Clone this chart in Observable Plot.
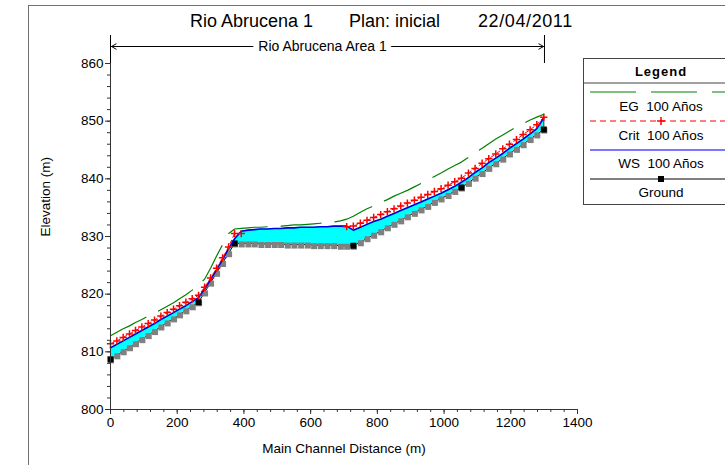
<!DOCTYPE html>
<html>
<head>
<meta charset="utf-8">
<script src="https://cdn.jsdelivr.net/npm/d3@7"></script>
<script src="https://cdn.jsdelivr.net/npm/@observablehq/plot@0.6"></script>
<style>
  html, body { margin: 0; padding: 0; background: #fff; }
  body { width: 725px; height: 465px; overflow: hidden; font-family: "Liberation Sans", Arial, sans-serif; }
  #wrap { position: relative; width: 725px; height: 465px; overflow: hidden; }
  #frame { position: absolute; left: 28px; top: 5px; width: 800px; height: 600px; border: 1px solid #707070; box-sizing: border-box; }
  #chart { position: absolute; left: 0; top: 0; }
  .title { position: absolute; top: 11px; font-size: 18px; color: #000; white-space: pre; }
  #legend { position: absolute; left: 583px; top: 58px; }
</style>
</head>
<body>
<div id="wrap">
  <div id="frame"></div>
  <div id="chart"></div>
  <div class="title" style="left:190px">Rio Abrucena 1</div>
  <div class="title" style="left:349px">Plan: inicial</div>
  <div class="title" style="left:478px;letter-spacing:0.6px">22/04/2011</div>
  <div id="legend"></div>
</div>
<script>
// ---- data ----
const stations = [0,19,38,57,75,94,113,132,151,170,189,207,226,245,264,
  282,300,318,336,354,372,
  392,412,431,451,471,491,510,530,550,570,590,609,629,649,669,689,708,728,
  749,769,789,810,830,850,870,890,911,931,951,971,991,1012,1032,1052,
  1073,1093,1114,1134,1155,1176,1196,1217,1237,1258,1278,1299];
const ground = [808.7,809.4,810.1,810.8,811.5,812.2,812.9,813.6,814.4,815.1,815.8,816.5,817.2,817.9,818.6,
  820.3,822.0,823.7,825.4,827.1,828.8,
  828.8,828.8,828.8,828.7,828.7,828.7,828.7,828.6,828.6,828.6,828.6,828.5,828.5,828.5,828.5,828.4,828.4,828.4,
  829.0,829.7,830.3,830.9,831.6,832.2,832.8,833.5,834.1,834.7,835.3,836.0,836.6,837.2,837.9,838.5,
  839.3,840.2,841.0,841.9,842.7,843.5,844.4,845.2,846.0,846.9,847.7,848.55];
const wsElev = [810.7,811.3,811.9,812.5,813.1,813.7,814.3,814.9,815.6,816.2,816.8,817.4,818.0,818.7,819.4,
  820.9,822.5,824.2,826.0,827.9,829.6,
  830.9,831.1,831.2,831.3,831.3,831.4,831.4,831.5,831.5,831.6,831.6,831.6,831.7,831.7,831.8,831.8,831.8,831.1,
  831.6,832.1,832.6,833.0,833.5,834.0,834.5,835.0,835.5,836.0,836.5,837.0,837.5,838.1,838.7,839.4,
  840.2,841.1,841.9,842.8,843.6,844.4,845.3,846.1,846.9,847.8,848.7,850.6];
const critElev = [811.4,811.9,812.5,813.1,813.7,814.3,814.9,815.5,816.2,816.8,817.4,818.0,818.6,819.2,819.8,
  821.2,822.8,824.5,826.3,828.2,830.5,
  830.5,null,null,null,null,null,null,null,null,null,null,null,null,null,null,null,831.7,831.8,
  832.3,832.8,833.3,833.8,834.3,834.8,835.3,835.8,836.3,836.8,837.3,837.8,838.3,838.9,839.5,840.1,
  841.0,841.8,842.7,843.5,844.3,845.2,846.0,846.8,847.7,848.5,849.4,850.7];
const egElev = [812.8,813.4,814.0,814.5,815.1,815.6,816.2,816.7,817.3,817.9,818.5,819.2,819.9,820.7,821.6,
  822.6,824.5,826.6,828.6,830.5,831.3,
  831.4,831.5,831.6,831.6,831.7,831.8,831.8,831.9,832.0,832.0,832.1,832.2,832.3,832.4,832.5,832.7,833.0,833.5,
  834.2,834.8,835.3,835.9,836.4,837.0,837.5,838.0,838.6,839.2,839.8,840.4,841.0,841.7,842.3,842.9,
  843.7,844.5,845.3,846.1,846.9,847.6,848.3,849.0,849.6,850.2,850.7,851.2];
const mainStations = [0, 264, 372, 728, 1052, 1299];
const reachName = "Rio Abrucena Area 1";
const reachFrom = 0, reachTo = 1301;
const xMajor = [0,200,400,600,800,1000,1200,1400];
const yMajor = [800,810,820,830,840,850,860];
const xMinor = d3.range(0, 1401, 40);
const yMinor = d3.range(800, 861, 2);
const legendItems = ["EG  100 Años", "Crit  100 Años", "WS  100 Años", "Ground"];

const data = stations.map((s, i) => ({st: s, ground: ground[i], ws: wsElev[i], crit: critElev[i], eg: egElev[i]}));
const mainPts = data.filter(d => mainStations.includes(d.st));
const critPts = data.filter(d => d.crit != null);
const last = data[data.length - 1];

// annotation heights just above the frame (elevation units beyond the domain)
const perPx = 60 / 346;
const yArrow = 860 + 17 * perPx;
const yRuleTop = 860 + 28 * perPx;
const reachMid = (reachFrom + reachTo) / 2;
const fmt = d => String(d);

const chart = Plot.plot({
  width: 725, height: 465,
  marginLeft: 110, marginRight: 148, marginTop: 63, marginBottom: 56,
  style: {background: "transparent", fontFamily: "Liberation Sans, Arial, sans-serif", fontSize: "13px", color: "#000", overflow: "visible"},
  x: {domain: [0, 1400], axis: null},
  y: {domain: [800, 860], axis: null},
  marks: [
    Plot.areaY(data, {x: "st", y1: "ground", y2: "ws", fill: "#00ffff"}),
    Plot.line(data, {x: "st", y: "ground", stroke: "#000", strokeWidth: 1}),
    Plot.dot(data, {x: "st", y: "ground", symbol: "square", r: 3.4, fill: "#808080", stroke: "none", dx: 0.5, dy: 1}),
    Plot.dot(mainPts, {x: "st", y: "ground", symbol: "square", r: 3.4, fill: "#000", stroke: "none"}),
    Plot.ruleX([last], {x: "st", y1: "ground", y2: "ws", stroke: "#222", strokeWidth: 1}),
    Plot.line(data, {x: "st", y: "ws", stroke: "#0000e0", strokeWidth: 1.6}),
    Plot.line(data, {x: "st", y: "crit", stroke: "#ff0000", strokeWidth: 1, strokeDasharray: "4,3"}),
    Plot.dot(critPts, {x: "st", y: "crit", symbol: "plus", r: 2.5, stroke: "#ff0000", strokeWidth: 1.5}),
    Plot.line(data, {x: "st", y: "eg", stroke: "#008000", strokeWidth: 1.2, strokeDasharray: "40,14"}),
    // axes
    Plot.ruleY([800], {stroke: "#333"}),
    Plot.ruleX([0], {stroke: "#333"}),
    Plot.axisY({ticks: yMajor, tickSize: 5, tickPadding: 2, fontSize: 13.5, tickFormat: fmt, label: null, stroke: "#333"}),
    Plot.axisY({ticks: yMinor, tickSize: 3, tickFormat: () => "", label: null, stroke: "#333"}),
    Plot.axisX({ticks: xMajor, tickSize: 5, tickPadding: 3, fontSize: 13.5, tickFormat: fmt, label: null, stroke: "#333"}),
    Plot.axisX({ticks: xMinor, tickSize: 3, tickFormat: () => "", label: null, stroke: "#333"}),
    Plot.text(["Elevation (m)"], {frameAnchor: "left", dx: -65, rotate: -90, fontSize: 13.5}),
    Plot.text(["Main Channel Distance (m)"], {frameAnchor: "bottom", dy: 43, fontSize: 13.5}),
    // reach annotation
    Plot.ruleX([reachFrom, reachTo], {x: d => d, y1: 860, y2: yRuleTop, stroke: "#000"}),
    Plot.arrow([{a: reachMid, b: reachFrom + 3}, {a: reachMid, b: reachTo - 3}], {x1: "a", x2: "b", y1: yArrow, y2: yArrow, headLength: 8, stroke: "#000", strokeWidth: 1}),
    Plot.text([reachName], {x: reachMid - 15, y: yArrow, fill: "#000", stroke: "#fff", strokeWidth: 12, fontSize: 14})
  ]
});
document.getElementById("chart").appendChild(chart);

// ---- legend ----
const W = 157, H = 147;
const lg = d3.select("#legend").append("svg").attr("width", W).attr("height", H)
  .style("font-family", "Liberation Sans, Arial, sans-serif").style("overflow", "visible");
lg.append("rect").attr("x", 0.5).attr("y", 0.5).attr("width", W - 1).attr("height", H - 1).attr("fill", "#fff").attr("stroke", "#444");
const cx = 78;
lg.append("text").attr("x", cx).attr("y", 13).attr("dy", "0.35em").attr("text-anchor", "middle")
  .attr("font-weight", "bold").attr("font-size", 13).attr("letter-spacing", 1).text("Legend");
lg.append("line").attr("x1", 0).attr("x2", W).attr("y1", 25).attr("y2", 25).attr("stroke", "#444");
const rows = [
  {ly: 34, ty: 48, stroke: "#008000", dash: "46,15", w: 1.2},
  {ly: 63, ty: 77, stroke: "#ff0000", dash: "6,4", w: 1.2},
  {ly: 92, ty: 105, stroke: "#7878ff", dash: null, w: 2},
  {ly: 121, ty: 134, stroke: "#000", dash: null, w: 1}
];
rows.forEach((r, i) => {
  const l = lg.append("line").attr("x1", 7).attr("x2", W).attr("y1", r.ly).attr("y2", r.ly)
    .attr("stroke", r.stroke).attr("stroke-width", r.w);
  if (r.dash) l.attr("stroke-dasharray", r.dash);
  lg.append("text").attr("x", cx).attr("y", r.ty).attr("dy", "0.35em").attr("text-anchor", "middle")
    .attr("font-size", 13.5).attr("xml:space", "preserve").style("white-space", "pre").text(legendItems[i]);
});
lg.append("path").attr("d", `M${cx-4},63H${cx+4}M${cx},59V67`).attr("stroke", "#ff0000").attr("stroke-width", 1.5);
lg.append("rect").attr("x", cx - 3).attr("y", 118).attr("width", 6).attr("height", 6).attr("fill", "#000");
</script>
</body>
</html>
